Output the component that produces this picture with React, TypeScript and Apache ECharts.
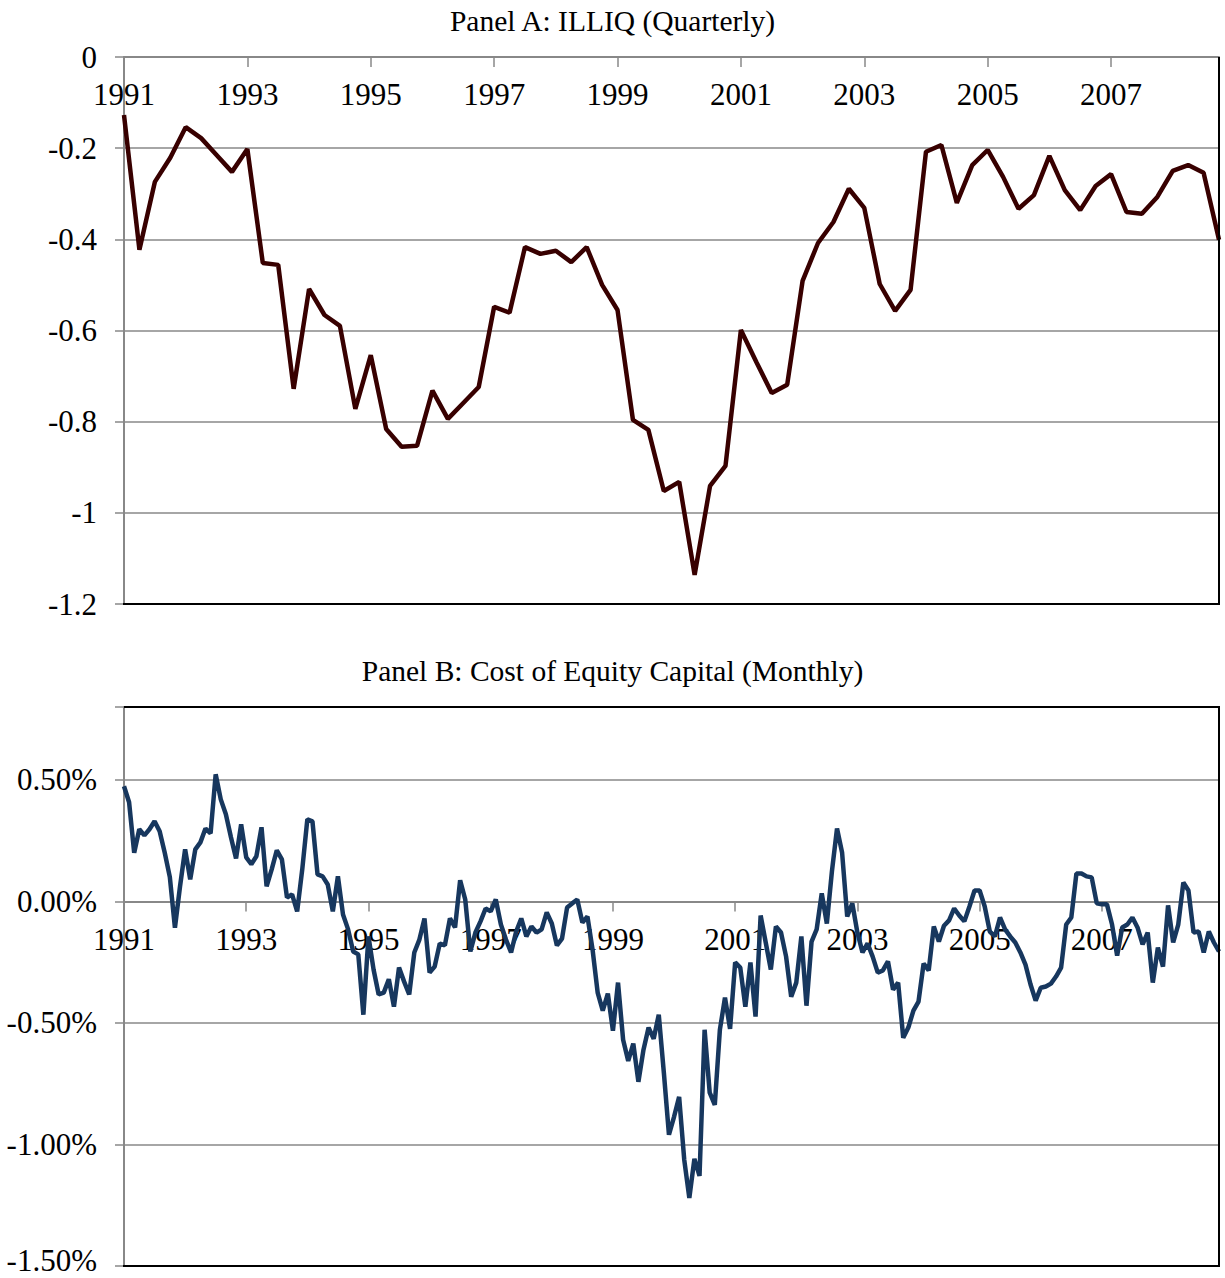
import React, { useEffect, useRef } from "react";
import * as echarts from "echarts";

const years = [1991, 1992, 1993, 1994, 1995, 1996, 1997, 1998, 1999, 2000, 2001, 2002, 2003, 2004, 2005, 2006, 2007, 2008];
const quarterNames = ["Q1", "Q2", "Q3", "Q4"];
const monthNames = ["01", "02", "03", "04", "05", "06", "07", "08", "09", "10", "11", "12"];

const quarters = years.flatMap((y) => quarterNames.map((q) => `${y}${q}`));
const months = years.flatMap((y) => monthNames.map((m) => `${y}-${m}`));

// Panel A: ILLIQ (quarterly)
const illiq = [
  -0.127, -0.423, -0.274, -0.221, -0.154, -0.178, -0.215, -0.252,
  -0.202, -0.452, -0.456, -0.728, -0.509, -0.566, -0.59, -0.772,
  -0.654, -0.816, -0.855, -0.853, -0.732, -0.794, -0.759, -0.724,
  -0.548, -0.561, -0.417, -0.432, -0.425, -0.45, -0.417, -0.5,
  -0.555, -0.796, -0.818, -0.952, -0.932, -1.136, -0.941, -0.897,
  -0.599, -0.669, -0.737, -0.719, -0.491, -0.408, -0.362, -0.289,
  -0.331, -0.498, -0.557, -0.511, -0.208, -0.193, -0.32, -0.237,
  -0.204, -0.263, -0.333, -0.303, -0.217, -0.292, -0.336, -0.283,
  -0.257, -0.34, -0.344, -0.307, -0.25, -0.237, -0.254, -0.401,
];

// Panel B: cost of equity capital (monthly, in %)
const costOfEquity = [
  0.474, 0.408, 0.2, 0.297, 0.272, 0.297, 0.33, 0.289, 0.2, 0.1,
  -0.108, 0.062, 0.214, 0.091, 0.214, 0.243, 0.3, 0.28, 0.523, 0.42,
  0.359, 0.264, 0.177, 0.317, 0.181, 0.153, 0.186, 0.305, 0.062, 0.132,
  0.21, 0.173, 0.016, 0.029, -0.041, 0.132, 0.338, 0.33, 0.111, 0.103,
  0.07, -0.041, 0.103, -0.054, -0.115, -0.206, -0.218, -0.466, -0.144, -0.28,
  -0.383, -0.375, -0.32, -0.433, -0.272, -0.33, -0.383, -0.21, -0.157, -0.07,
  -0.293, -0.268, -0.173, -0.181, -0.07, -0.107, 0.087, 0.008, -0.206, -0.128,
  -0.082, -0.029, -0.041, 0.008, -0.095, -0.157, -0.21, -0.124, -0.07, -0.144,
  -0.103, -0.128, -0.115, -0.045, -0.091, -0.181, -0.153, -0.025, -0.008, 0.008,
  -0.087, -0.062, -0.198, -0.375, -0.449, -0.379, -0.532, -0.334, -0.569, -0.656,
  -0.585, -0.742, -0.61, -0.519, -0.565, -0.466, -0.705, -0.96, -0.886, -0.804,
  -1.063, -1.22, -1.059, -1.129, -0.528, -0.787, -0.837, -0.528, -0.396, -0.524,
  -0.251, -0.272, -0.433, -0.251, -0.474, -0.058, -0.169, -0.28, -0.103, -0.128,
  -0.227, -0.392, -0.334, -0.144, -0.429, -0.165, -0.115, 0.033, -0.091, 0.124,
  0.3, 0.2, -0.062, -0.008, -0.128, -0.21, -0.173, -0.227, -0.293, -0.284,
  -0.247, -0.363, -0.334, -0.561, -0.519, -0.449, -0.412, -0.256, -0.284, -0.103,
  -0.165, -0.1, -0.078, -0.029, -0.058, -0.082, -0.021, 0.045, 0.045, -0.021,
  -0.124, -0.144, -0.066, -0.115, -0.144, -0.169, -0.21, -0.26, -0.342, -0.408,
  -0.355, -0.35, -0.338, -0.309, -0.272, -0.095, -0.066, 0.115, 0.115, 0.103,
  0.099, -0.008, -0.012, -0.012, -0.095, -0.223, -0.107, -0.095, -0.066, -0.107,
  -0.177, -0.128, -0.334, -0.19, -0.268, -0.016, -0.169, -0.095, 0.078, 0.045,
  -0.128, -0.124, -0.21, -0.124, -0.169, -0.206,
];

const titles = ["Panel A: ILLIQ (Quarterly)", "Panel B: Cost of Equity Capital (Monthly)"];

// axis ranges
const aMin = -1.2, aMax = 0, aStep = 0.2;
const bMin = -1.5, bMax = 0.8, bStep = 0.5;

const FONT = '"Liberation Serif", "DejaVu Serif", serif';
const GRAY = "#888888";

// layout
const gridA = { left: 124, top: 57, width: 1095, height: 547 };
const gridB = { left: 124, top: 707, width: 1095, height: 559 };

export default function App() {
  const ref = useRef<HTMLDivElement>(null);

  useEffect(() => {
    if (!ref.current) return;
    const chart = echarts.init(ref.current, undefined, { renderer: "svg" });

    const labelStyle = { fontFamily: FONT, fontSize: 31, color: "#000" };
    // panel B's category axis crosses the value axis at 0 (moved up from the bottom)
    const bZeroOffset = -(gridB.height * (0 - bMin)) / (bMax - bMin);

    const option: any = {
      animation: false,
      backgroundColor: "#fff",
      title: [
        {
          text: titles[0],
          left: "center",
          top: 1,
          textStyle: { fontFamily: FONT, fontSize: 29.5, fontWeight: "normal", color: "#000" },
        },
        {
          text: titles[1],
          left: "center",
          top: 651,
          textStyle: { fontFamily: FONT, fontSize: 29.5, fontWeight: "normal", color: "#000" },
        },
      ],
      grid: [
        { ...gridA, outerBoundsMode: "none", containLabel: false },
        { ...gridB, outerBoundsMode: "none", containLabel: false },
      ],
      xAxis: [
        {
          type: "category",
          gridIndex: 0,
          data: quarters,
          boundaryGap: false,
          position: "top",
          axisLine: { show: true, onZero: false, lineStyle: { color: GRAY, width: 2 } },
          axisTick: { show: true, inside: true, length: 10, interval: 7, lineStyle: { color: GRAY, width: 1.5 } },
          axisLabel: {
            ...labelStyle,
            inside: true,
            interval: 7,
            margin: 22,
            formatter: (v: string) => v.slice(0, 4),
          },
          splitLine: { show: false },
        },
        {
          type: "category",
          gridIndex: 1,
          data: months,
          boundaryGap: false,
          position: "bottom",
          offset: bZeroOffset,
          axisLine: { show: true, onZero: false, lineStyle: { color: GRAY, width: 2 } },
          axisTick: { show: true, length: 10, interval: 23, lineStyle: { color: GRAY, width: 1.5 } },
          axisLabel: {
            ...labelStyle,
            interval: 23,
            margin: 23,
            formatter: (v: string) => v.slice(0, 4),
          },
          splitLine: { show: false },
        },
      ],
      yAxis: [
        {
          type: "value",
          gridIndex: 0,
          min: aMin,
          max: aMax,
          interval: aStep,
          axisLine: { show: true, lineStyle: { color: GRAY, width: 2 } },
          axisTick: { show: true, length: 9, lineStyle: { color: GRAY, width: 1.5 } },
          axisLabel: {
            ...labelStyle,
            lineHeight: 22,
            margin: 27,
            formatter: (v: number) => String(Math.round(v * 10) / 10),
          },
          splitLine: { show: true, lineStyle: { color: GRAY, width: 1.5 } },
        },
        {
          type: "value",
          gridIndex: 1,
          min: bMin,
          max: bMax,
          interval: bStep,
          axisLine: { show: true, lineStyle: { color: GRAY, width: 2 } },
          axisTick: { show: true, length: 9, lineStyle: { color: GRAY, width: 1.5 } },
          axisLabel: {
            ...labelStyle,
            lineHeight: 22,
            margin: 27,
            formatter: (v: number) => {
              const k = v / bStep;
              if (Math.abs(k - Math.round(k)) > 1e-6) return "";
              const txt = `${v.toFixed(2)}%`;
              // lift the lowest label slightly so it stays inside the page
              return Math.abs(v - bMin) < 1e-6 ? `{low|${txt}}` : txt;
            },
            rich: {
              low: { fontFamily: FONT, fontSize: 31, color: "#000", lineHeight: 22, padding: [0, 0, 12, 0] },
            },
          },
          splitLine: { show: true, showMaxLine: false, lineStyle: { color: GRAY, width: 1.5 } },
        },
      ],
      series: [
        {
          type: "line",
          xAxisIndex: 0,
          yAxisIndex: 0,
          data: illiq,
          symbol: "none",
          showSymbol: false,
          lineStyle: { color: "#380000", width: 4.5 },
          itemStyle: { color: "#380000" },
        },
        {
          type: "line",
          xAxisIndex: 1,
          yAxisIndex: 1,
          data: costOfEquity,
          symbol: "none",
          showSymbol: false,
          lineStyle: { color: "#17375E", width: 4.5 },
          itemStyle: { color: "#17375E" },
        },
      ],
      graphic: [
        { type: "line", z: 100, shape: { x1: 1219, y1: 57, x2: 1219, y2: 605 }, style: { stroke: "#000", lineWidth: 2 } },
        { type: "line", z: 100, shape: { x1: 123, y1: 604, x2: 1220, y2: 604 }, style: { stroke: "#000", lineWidth: 2 } },
        { type: "line", z: 100, shape: { x1: 124, y1: 707, x2: 1220, y2: 707 }, style: { stroke: "#000", lineWidth: 2 } },
        { type: "line", z: 100, shape: { x1: 1219, y1: 707, x2: 1219, y2: 1267 }, style: { stroke: "#000", lineWidth: 2 } },
        { type: "line", z: 100, shape: { x1: 123, y1: 1266, x2: 1220, y2: 1266 }, style: { stroke: "#000", lineWidth: 2 } },
      ],
    };

    chart.setOption(option);
    return () => chart.dispose();
  }, []);

  return (
    <div
      ref={ref}
      style={{ position: "absolute", left: 0, top: 0, width: 1225, height: 1278, background: "#fff" }}
    />
  );
}
